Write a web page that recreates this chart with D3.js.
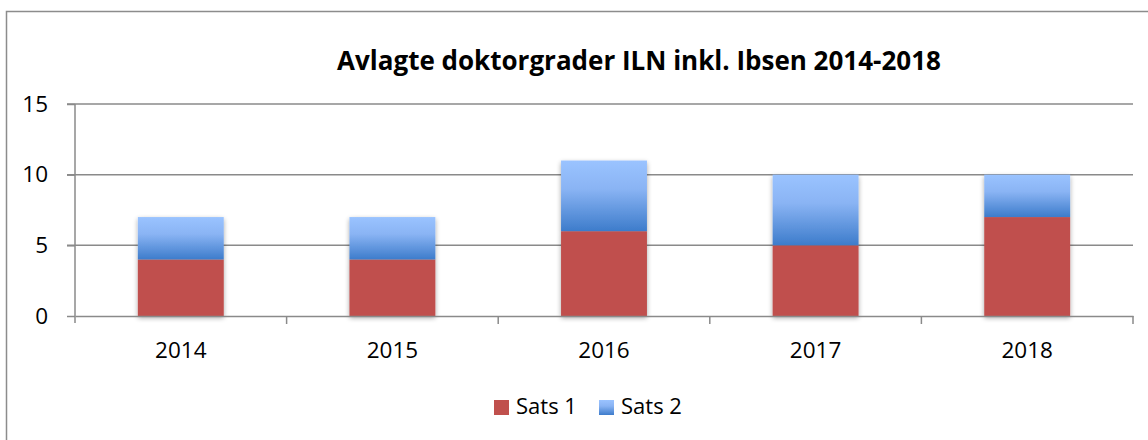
<!DOCTYPE html>
<html>
<head>
<meta charset="utf-8">
<script src="https://cdn.jsdelivr.net/npm/d3@7"></script>
<style>
  body { margin: 0; background: #fff; }
  svg { font-family: "Open Sans", "DejaVu Sans", sans-serif; }
</style>
</head>
<body>
<svg id="chart" width="1148" height="440"></svg>
<script>
// chart data
const years = ['2014', '2015', '2016', '2017', '2018'];
const sats1 = [4, 4, 6, 5, 7];
const sats2 = [3, 3, 5, 5, 3];
const seriesNames = ['Sats 1', 'Sats 2'];
const yTicks = [0, 5, 10, 15];

const width = 1148, height = 440;
const margin = { top: 104, right: 15, bottom: 124, left: 75 };

const svg = d3.select('#chart');

// defs: gradient for blue series and soft shadow for bars
const defs = svg.append('defs');
const grad = defs.append('linearGradient')
    .attr('id', 'blueGrad')
    .attr('x1', 0).attr('y1', 0).attr('x2', 0).attr('y2', 1);
grad.append('stop').attr('offset', '0%').attr('stop-color', '#9AC3FF');
grad.append('stop').attr('offset', '40%').attr('stop-color', '#8AB4F4');
grad.append('stop').attr('offset', '100%').attr('stop-color', '#3D7CCB');

const shadow = defs.append('filter')
    .attr('id', 'shadow')
    .attr('x', '-20%').attr('y', '-20%').attr('width', '140%').attr('height', '140%');
shadow.append('feGaussianBlur').attr('in', 'SourceAlpha').attr('stdDeviation', 2.5);
shadow.append('feOffset').attr('dx', 0).attr('dy', 1.5).attr('result', 'blur');
shadow.append('feComponentTransfer').append('feFuncA').attr('type', 'linear').attr('slope', 0.35);
const merge = shadow.append('feMerge');
merge.append('feMergeNode');
merge.append('feMergeNode').attr('in', 'SourceGraphic');

// outer frame
svg.append('rect')
    .attr('x', 6.5).attr('y', 11.5)
    .attr('width', width).attr('height', height)
    .attr('fill', '#fff')
    .attr('stroke', '#8c8c8c')
    .attr('stroke-width', 1.5);

const x = d3.scaleBand()
    .domain(years)
    .range([margin.left, width - margin.right])
    .paddingInner(0.594)
    .paddingOuter(0.297);

const xOuter = d3.scaleBand()
    .domain(years)
    .range([margin.left, width - margin.right]);

const y = d3.scaleLinear()
    .domain([0, 15])
    .range([height - margin.bottom, margin.top]);

// gridlines
svg.append('g')
    .selectAll('line')
    .data(yTicks.filter(d => d > 0))
    .join('line')
    .attr('x1', margin.left - 8)
    .attr('x2', width - margin.right)
    .attr('y1', d => y(d))
    .attr('y2', d => y(d))
    .attr('stroke', '#8a8a8a')
    .attr('stroke-width', 1.5);

// stacked data
const rows = years.map((yr, i) => ({ year: yr, 'Sats 1': sats1[i], 'Sats 2': sats2[i] }));
const stacked = d3.stack().keys(seriesNames)(rows);
const fills = { 'Sats 1': '#C0504D', 'Sats 2': 'url(#blueGrad)' };

const barsG = svg.append('g').attr('filter', 'url(#shadow)');
barsG.selectAll('g')
    .data(stacked)
    .join('g')
    .attr('fill', d => fills[d.key])
    .selectAll('rect')
    .data(d => d)
    .join('rect')
    .attr('x', d => x(d.data.year))
    .attr('width', x.bandwidth())
    .attr('y', d => y(d[1]))
    .attr('height', d => y(d[0]) - y(d[1]));

// y axis
const yAxis = svg.append('g')
    .attr('transform', `translate(${margin.left},0)`)
    .call(d3.axisLeft(y).tickValues(yTicks).tickSize(8).tickPadding(19));
yAxis.select('.domain').attr('stroke', '#8a8a8a').attr('stroke-width', 1.5)
    .attr('d', `M-0,${y(15)}V${y(0) + 7}`);
yAxis.selectAll('.tick line').attr('stroke', '#8a8a8a').attr('stroke-width', 1.5);
yAxis.selectAll('.tick text').attr('font-size', 22.5).attr('fill', '#000')
    .attr('font-family', '"Open Sans", sans-serif');

// x axis
const xAxis = svg.append('g')
    .attr('transform', `translate(0,${y(0)})`)
    .call(d3.axisBottom(x).tickSize(0).tickPadding(26));
xAxis.select('.domain').attr('stroke', '#8a8a8a').attr('stroke-width', 1.5);
xAxis.selectAll('.tick text').attr('font-size', 22.5).attr('fill', '#000')
    .attr('font-family', '"Open Sans", sans-serif');

// category boundary ticks
svg.append('g')
    .selectAll('line')
    .data(years.slice(1).map(d => xOuter(d)).concat([xOuter.range()[1]]))
    .join('line')
    .attr('x1', d => d).attr('x2', d => d)
    .attr('y1', y(0)).attr('y2', y(0) + 8)
    .attr('stroke', '#8a8a8a')
    .attr('stroke-width', 1.5);

// title
svg.append('text')
    .attr('x', 639)
    .attr('y', 70)
    .attr('text-anchor', 'middle')
    .attr('font-size', 26)
    .attr('font-weight', 'bold')
    .attr('fill', '#000')
    .text('Avlagte doktorgrader ILN inkl. Ibsen 2014-2018');

// legend
const legend = svg.append('g').attr('transform', 'translate(494,400)');
const legendX = [0, 105];
seriesNames.forEach((name, i) => {
    const g = legend.append('g').attr('transform', `translate(${legendX[i]},0)`);
    g.append('rect')
        .attr('width', 15).attr('height', 15)
        .attr('fill', fills[name]);
    g.append('text')
        .attr('x', 22).attr('y', 14)
        .attr('font-size', 22)
        .attr('fill', '#000')
        .text(name);
});
</script>
</body>
</html>
